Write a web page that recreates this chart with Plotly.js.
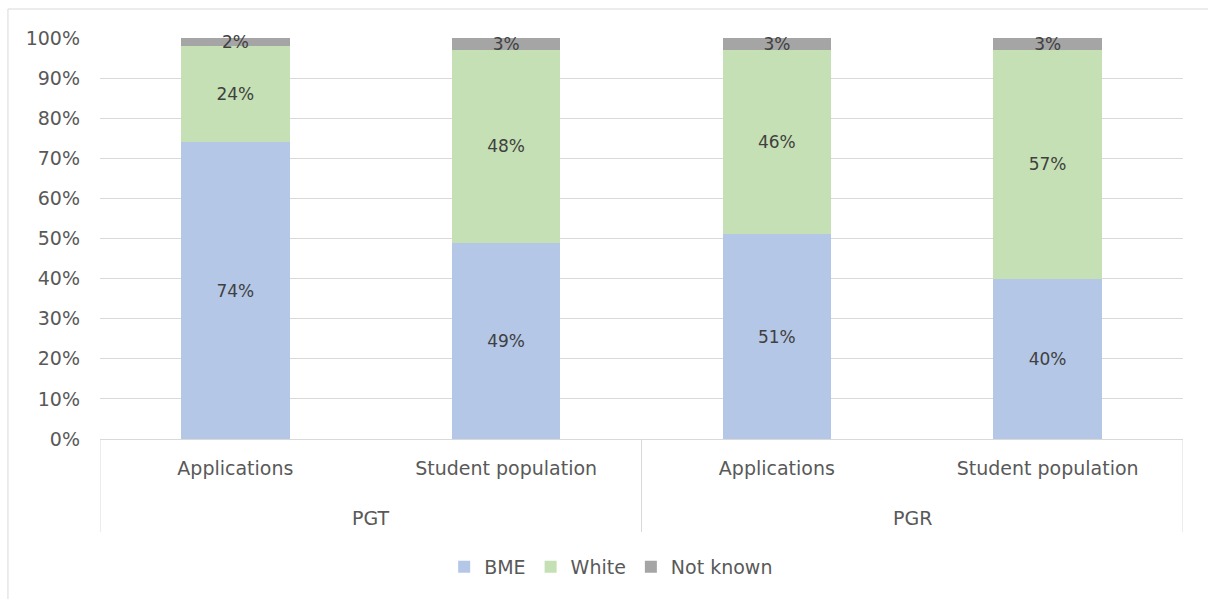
<!DOCTYPE html>
<html>
<head>
<meta charset="utf-8">
<script src="https://cdn.plot.ly/plotly-3.0.1.min.js"></script>
<style>
  html, body { margin: 0; padding: 0; background: #ffffff; }
  #chart { width: 1208px; height: 599px; }
</style>
</head>
<body>
<div id="chart"></div>
<script>
// Programme level and measure for each stacked column
const programmes = ["PGT", "PGT", "PGR", "PGR"];
const measures = ["Applications", "Student population", "Applications", "Student population"];

// Share of each ethnicity group (%)
const bme = [74, 49, 51, 40];
const white = [24, 48, 46, 57];
const notKnown = [2, 3, 3, 3];

const seriesNames = ["BME", "White", "Not known"];
const seriesColors = ["#B4C7E7", "#C5E0B4", "#A5A5A5"];

const textColor = "#595959";
const lineColor = "#D9D9D9";
const fontFamily = "DejaVu Sans, sans-serif";

// one slot per column on a linear axis, labelled with the measure names
const slots = measures.map((_, i) => i);

// group the slots by programme: first/last slot of each run
const groups = [];
programmes.forEach((p, i) => {
  const last = groups[groups.length - 1];
  if (last && last.name === p) last.end = i;
  else groups.push({ name: p, start: i, end: i });
});

function makeTrace(values, i) {
  return {
    type: "bar",
    name: seriesNames[i],
    x: slots,
    y: values,
    marker: { color: seriesColors[i], line: { width: 0 } },
    text: values.map(v => v + "%"),
    textposition: "inside",
    insidetextanchor: "middle",
    constraintext: "none",
    textangle: 0,
    insidetextfont: { family: fontFamily, size: 17, color: "#404040" },
    hoverinfo: "skip",
    cliponaxis: false
  };
}

const data = [makeTrace(bme, 0), makeTrace(white, 1), makeTrace(notKnown, 2)];

// group dividers below the axis and the programme labels between them
const dividerDepth = -0.232;
const shapes = [
  {
    // outer chart frame
    type: "rect",
    xref: "paper",
    yref: "paper",
    x0: -0.085,
    x1: 1.2,
    y0: -0.6,
    y1: 1.0723,
    line: { color: lineColor, width: 1 },
    fillcolor: "rgba(0,0,0,0)",
    layer: "below"
  }
];
const boundaries = [groups[0].start - 0.5].concat(groups.map(g => g.end + 0.5));
boundaries.forEach(b => {
  shapes.push({
    type: "line",
    xref: "x",
    yref: "paper",
    x0: b,
    x1: b,
    y0: 0,
    y1: dividerDepth,
    line: { color: lineColor, width: 1 }
  });
});
const annotations = groups.map(g => ({
  xref: "x",
  yref: "paper",
  x: (g.start + g.end) / 2,
  y: -0.197,
  yanchor: "middle",
  xanchor: "center",
  text: g.name,
  showarrow: false,
  font: { family: fontFamily, size: 19, color: textColor }
}));

const layout = {
  width: 1208,
  height: 599,
  margin: { l: 100, r: 25, t: 38, b: 160 },
  paper_bgcolor: "#ffffff",
  plot_bgcolor: "#ffffff",
  barmode: "stack",
  bargap: 0.6,
  font: { family: fontFamily, size: 19, color: textColor },
  showlegend: true,
  legend: {
    orientation: "h",
    x: 0.472,
    xanchor: "center",
    y: -0.319,
    yanchor: "middle",
    font: { family: fontFamily, size: 19, color: textColor },
    traceorder: "normal",
    itemclick: false,
    itemdoubleclick: false
  },
  xaxis: {
    type: "linear",
    range: [-0.5, slots.length - 0.5],
    tickmode: "array",
    tickvals: slots,
    ticktext: measures,
    showline: true,
    linecolor: lineColor,
    linewidth: 1,
    showgrid: false,
    zeroline: false,
    ticks: "",
    ticklabelstandoff: 12,
    tickfont: { family: fontFamily, size: 19, color: textColor },
    fixedrange: true
  },
  yaxis: {
    range: [0, 100],
    dtick: 10,
    ticksuffix: "%",
    showgrid: true,
    gridcolor: lineColor,
    gridwidth: 1,
    zeroline: false,
    showline: false,
    ticks: "",
    ticklabelstandoff: 19,
    tickfont: { family: fontFamily, size: 19, color: textColor },
    fixedrange: true
  },
  shapes: shapes,
  annotations: annotations
};

Plotly.newPlot("chart", data, layout, { staticPlot: true, displayModeBar: false });
</script>
</body>
</html>
